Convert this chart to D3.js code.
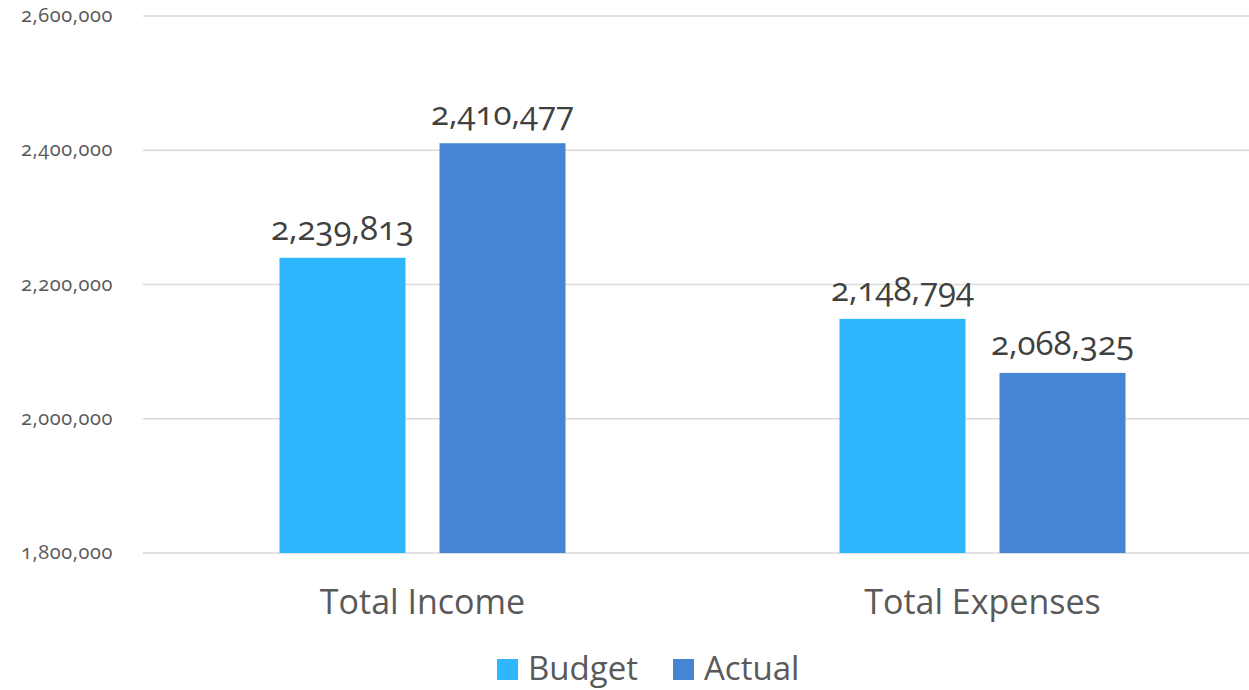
<!DOCTYPE html>
<html>
<head>
<meta charset="utf-8">
<script src="https://cdn.jsdelivr.net/npm/d3@7"></script>
<style>
  body { margin: 0; background: #fff; }
  svg { font-family: "Open Sans", Lato, sans-serif; font-variant-numeric: oldstyle-nums; }
</style>
</head>
<body>
<svg id="chart" width="1249" height="690"></svg>
<script>
var categories = ['Total Income', 'Total Expenses'];
var seriesNames = ['Budget', 'Actual'];
var budgetValues = [2239813, 2148794];
var actualValues = [2410477, 2068325];
var yTicks = [1800000, 2000000, 2200000, 2400000, 2600000];
var colors = ['#2EB6FF', '#4585D4'];

var svg = d3.select('#chart');
var fmt = d3.format(',');

var x0 = d3.scaleBand()
           .domain(categories)
           .range([142.5, 1262.5])
           .paddingInner(0)
           .paddingOuter(0);

var x1 = d3.scaleBand()
           .domain(seriesNames)
           .range([137, 423])
           .paddingInner(34 / 160);

var y = d3.scaleLinear()
          .domain([1800000, 2600000])
          .range([553, 16]);

// gridlines
svg.append('g')
   .selectAll('line')
   .data(yTicks)
   .enter()
   .append('line')
   .attr('x1', 143)
   .attr('x2', 1249)
   .attr('y1', function(d) { return y(d); })
   .attr('y2', function(d) { return y(d); })
   .attr('stroke', '#d9d9d9')
   .attr('stroke-width', 1.5);

// y tick labels
svg.append('g')
   .selectAll('text')
   .data(yTicks)
   .enter()
   .append('text')
   .attr('x', 113)
   .attr('y', function(d) { return y(d) + 6; })
   .attr('text-anchor', 'end')
   .attr('fill', '#595959')
   .style('font-size', '20px')
   .style('letter-spacing', '0.6px')
   .text(function(d) { return fmt(d); });

var rows = categories.map(function(c, i) {
  return { cat: c, values: [budgetValues[i], actualValues[i]] };
});

var groups = svg.selectAll('.group')
                .data(rows)
                .enter()
                .append('g')
                .attr('class', 'group')
                .attr('transform', function(d) { return 'translate(' + x0(d.cat) + ',0)'; });

groups.selectAll('rect')
      .data(function(d) { return d.values.map(function(v, j) { return { s: seriesNames[j], v: v, j: j }; }); })
      .enter()
      .append('rect')
      .attr('x', function(d) { return x1(d.s); })
      .attr('width', x1.bandwidth())
      .attr('y', function(d) { return y(d.v); })
      .attr('height', function(d) { return y(1800000) - y(d.v); })
      .attr('fill', function(d) { return colors[d.j]; });

groups.selectAll('.val')
      .data(function(d) { return d.values.map(function(v, j) { return { s: seriesNames[j], v: v }; }); })
      .enter()
      .append('text')
      .attr('class', 'val')
      .attr('x', function(d) { return x1(d.s) + x1.bandwidth() / 2; })
      .attr('y', function(d) { return y(d.v) - 18; })
      .attr('text-anchor', 'middle')
      .attr('fill', '#404040')
      .style('font-size', '33px')
      .text(function(d) { return fmt(d.v); });

// category labels
svg.append('g')
   .selectAll('text')
   .data(categories)
   .enter()
   .append('text')
   .attr('x', function(d) { return x0(d) + x0.bandwidth() / 2; })
   .attr('y', 614)
   .attr('text-anchor', 'middle')
   .attr('fill', '#595959')
   .style('font-size', '34px')
   .text(function(d) { return d; });

// legend
var legendX = [497, 673];
var legend = svg.append('g')
                .selectAll('g')
                .data(seriesNames)
                .enter()
                .append('g')
                .attr('transform', function(d, i) { return 'translate(' + legendX[i] + ',659)'; });

legend.append('rect')
      .attr('width', 21)
      .attr('height', 21)
      .attr('fill', function(d, i) { return colors[i]; });

legend.append('text')
      .attr('x', 31)
      .attr('y', 21)
      .attr('fill', '#595959')
      .style('font-size', '33px')
      .text(function(d) { return d; });
</script>
</body>
</html>
